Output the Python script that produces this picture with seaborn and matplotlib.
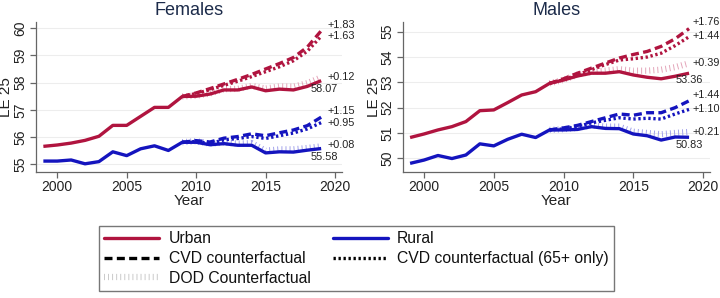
import numpy as np
import pandas as pd
import matplotlib.pyplot as plt
import seaborn as sns
from matplotlib.lines import Line2D

years = list(range(1999, 2020))
cf_years = list(range(2009, 2020))

# Females
f_urban = [55.66, 55.71, 55.78, 55.88, 56.03, 56.43, 56.43, 56.76, 57.09, 57.09, 57.49,
           57.50, 57.58, 57.73, 57.73, 57.84, 57.70, 57.76, 57.73, 57.86, 58.07]
f_rural = [55.12, 55.12, 55.16, 55.02, 55.10, 55.46, 55.32, 55.57, 55.68, 55.51, 55.81,
           55.81, 55.72, 55.76, 55.70, 55.70, 55.42, 55.46, 55.45, 55.52, 55.58]
f_urban_cvd = [57.49, 57.62, 57.78, 57.95, 58.12, 58.30, 58.50, 58.70, 58.92, 59.30, 59.90]
f_urban_cvd65 = [57.49, 57.60, 57.74, 57.90, 58.05, 58.22, 58.40, 58.58, 58.80, 59.15, 59.70]
f_urban_dod = [57.49, 57.52, 57.60, 57.76, 57.77, 57.88, 57.78, 57.86, 57.85, 57.98, 58.19]
f_rural_cvd = [55.81, 55.87, 55.82, 55.96, 56.02, 56.12, 56.05, 56.16, 56.26, 56.42, 56.73]
f_rural_cvd65 = [55.81, 55.84, 55.76, 55.90, 55.95, 56.02, 55.95, 56.05, 56.15, 56.30, 56.53]
f_rural_dod = [55.81, 55.85, 55.76, 55.80, 55.76, 55.78, 55.50, 55.55, 55.55, 55.60, 55.66]

# Males
m_urban = [50.82, 50.96, 51.12, 51.25, 51.45, 51.88, 51.91, 52.20, 52.50, 52.63, 52.96,
           53.09, 53.25, 53.36, 53.36, 53.42, 53.29, 53.20, 53.14, 53.24, 53.36]
m_rural = [49.80, 49.93, 50.11, 49.99, 50.13, 50.57, 50.49, 50.75, 50.95, 50.82, 51.12,
           51.12, 51.14, 51.25, 51.18, 51.17, 50.96, 50.89, 50.72, 50.84, 50.83]
m_urban_cvd = [52.96, 53.14, 53.36, 53.56, 53.76, 53.96, 54.10, 54.22, 54.42, 54.72, 55.12]
m_urban_cvd65 = [52.96, 53.10, 53.30, 53.50, 53.70, 53.88, 53.93, 54.00, 54.15, 54.45, 54.80]
m_urban_dod = [52.96, 53.10, 53.30, 53.42, 53.46, 53.52, 53.46, 53.46, 53.50, 53.60, 53.75]
m_rural_cvd = [51.12, 51.20, 51.30, 51.45, 51.60, 51.75, 51.70, 51.80, 51.80, 52.00, 52.27]
m_rural_cvd65 = [51.12, 51.16, 51.25, 51.40, 51.50, 51.60, 51.55, 51.58, 51.55, 51.75, 51.93]
m_rural_dod = [51.12, 51.15, 51.20, 51.30, 51.25, 51.25, 51.05, 51.00, 50.95, 51.00, 51.04]

# end labels: (text, pixel offset x, pixel offset y)
f_labels = {"urban": ("58.07", -11, -8), "urban_cvd": ("+1.83", 6, 6), "urban_cvd65": ("+1.63", 6, 0),
            "urban_dod": ("+0.12", 6, 0), "rural": ("55.58", -11, -8), "rural_cvd": ("+1.15", 6, 6),
            "rural_cvd65": ("+0.95", 6, 0), "rural_dod": ("+0.08", 6, 1)}
m_labels = {"urban": ("53.36", -13, -7), "urban_cvd": ("+1.76", 3, 7), "urban_cvd65": ("+1.44", 3, 1),
            "urban_dod": ("+0.39", 3, 0), "rural": ("50.83", -13, -8), "rural_cvd": ("+1.44", 3, 6),
            "rural_cvd65": ("+1.10", 3, 0), "rural_dod": ("+0.21", 3, 0)}

URBAN = "#B0143F"
RURAL = "#1414BE"
URBAN_L = "#E3A3B8"
RURAL_L = "#A0A0EA"

sns.set_theme(style="white")
plt.rcParams["font.family"] = ["Liberation Sans", "DejaVu Sans"]

fig = plt.figure(figsize=(7.2, 2.98), dpi=100)
ax1 = fig.add_axes([0.050, 0.4238, 0.425, 0.503])
ax2 = fig.add_axes([0.5593, 0.4238, 0.4268, 0.503])

hatch = (0, (0.15, 0.5))
dash = (0, (2.4, 1.3))
dots = (0, (0.7, 0.8))


def draw(ax, d, labels, title, ylim, yticks, ylab_x):
    series = {
        "urban_dod": (cf_years, d["urban_dod"], URBAN_L, hatch, 4.5, 1),
        "rural_dod": (cf_years, d["rural_dod"], RURAL_L, hatch, 4.5, 1),
        "urban": (years, d["urban"], URBAN, "-", 2.4, 3),
        "rural": (years, d["rural"], RURAL, "-", 2.4, 3),
        "urban_cvd": (cf_years, d["urban_cvd"], URBAN, dash, 2.4, 2),
        "rural_cvd": (cf_years, d["rural_cvd"], RURAL, dash, 2.4, 2),
        "urban_cvd65": (cf_years, d["urban_cvd65"], URBAN, dots, 2.4, 2),
        "rural_cvd65": (cf_years, d["rural_cvd65"], RURAL, dots, 2.4, 2),
    }
    for key, (x, y, c, ls, lw, z) in series.items():
        df = pd.DataFrame({"Year": x, "LE": y})
        sns.lineplot(data=df, x="Year", y="LE", ax=ax, color=c, linewidth=lw, zorder=z)
        ax.lines[-1].set_linestyle(ls)
        ax.lines[-1].set_solid_capstyle("butt")
        txt, dx, dy = labels[key]
        ax.annotate(txt, xy=(x[-1], y[-1]), xytext=(dx, dy), textcoords="offset pixels",
                    ha="left", va="center", fontsize=7.8, color="#222222")
    ax.set_xlim(1998.47, 2020.5)
    ax.set_ylim(*ylim)
    ax.set_xticks([2000, 2005, 2010, 2015, 2020])
    ax.set_yticks(yticks)
    ax.grid(axis="y", color="#EDEDED", linewidth=0.8)
    ax.set_axisbelow(True)
    for s in ["top", "right"]:
        ax.spines[s].set_visible(False)
    for s in ["left", "bottom"]:
        ax.spines[s].set_color("#666666")
        ax.spines[s].set_linewidth(0.9)
    ax.tick_params(axis="both", direction="out", length=4, width=0.9, color="#666666",
                   labelsize=10, labelcolor="#222222", pad=2)
    ax.tick_params(axis="both", which="both", bottom=True, left=True)
    for lab in ax.get_yticklabels():
        lab.set_rotation(90)
        lab.set_va("center")
    ax.set_xlabel("Year", fontsize=11, color="#222222", labelpad=0)
    ax.set_ylabel("LE 25", fontsize=11, color="#222222")
    ax.yaxis.set_label_coords(ylab_x, 0.5)
    ax.set_title(title, fontsize=13, color="#1C2B4A", pad=5)


fem = {"urban": f_urban, "rural": f_rural, "urban_cvd": f_urban_cvd, "urban_cvd65": f_urban_cvd65,
       "urban_dod": f_urban_dod, "rural_cvd": f_rural_cvd, "rural_cvd65": f_rural_cvd65,
       "rural_dod": f_rural_dod}
mal = {"urban": m_urban, "rural": m_rural, "urban_cvd": m_urban_cvd, "urban_cvd65": m_urban_cvd65,
       "urban_dod": m_urban_dod, "rural_cvd": m_rural_cvd, "rural_cvd65": m_rural_cvd65,
       "rural_dod": m_rural_dod}

draw(ax1, fem, f_labels, "Females", (54.73, 60.23), [55, 56, 57, 58, 59, 60], -0.074)
draw(ax2, mal, m_labels, "Males", (49.47, 55.39), [50, 51, 52, 53, 54, 55], -0.072)

handles = [
    Line2D([], [], color=URBAN, lw=2.4),
    Line2D([], [], color="black", lw=2.4, linestyle=dash),
    Line2D([], [], color="#C8C8C8", lw=4.5, linestyle=hatch),
    Line2D([], [], color=RURAL, lw=2.4),
    Line2D([], [], color="black", lw=2.4, linestyle=dots),
]
names = ["Urban", "CVD counterfactual", "DOD Counterfactual", "Rural", "CVD counterfactual (65+ only)"]
leg = fig.legend(handles, names, ncol=2, loc="upper left", bbox_to_anchor=(99 / 720, 1 - 226 / 298),
                 frameon=True, fancybox=False, fontsize=11.3, handlelength=3.5, handletextpad=0.6,
                 columnspacing=1.4, labelspacing=0.3, borderpad=0.35, borderaxespad=0)
leg.get_frame().set_edgecolor("#555555")
leg.get_frame().set_linewidth(1.0)
for t in leg.get_texts():
    t.set_color("#111111")

fig.savefig("out.png", dpi=100)
